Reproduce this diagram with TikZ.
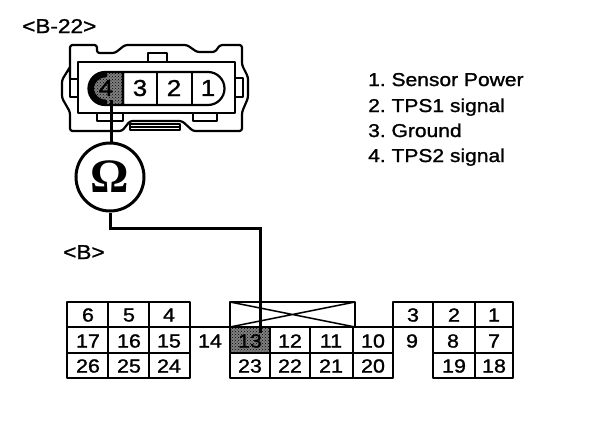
\documentclass[tikz,border=0pt]{standalone}
\usepackage{fontspec}
\setmainfont{Liberation Sans}[FakeBold=1.3,FakeStretch=1.13]
\newfontfamily\omfont{Liberation Serif}[BoldFont={Liberation Serif Bold}]
\usetikzlibrary{patterns}
\definecolor{hatchgrey}{gray}{0.5}
\tikzset{
  ink/.style={draw=black,line width=2.2pt,line join=round},
  thin ink/.style={draw=black,line width=1.5pt,line join=round},
  wire/.style={draw=black,line width=3pt},
  num/.style={font=\fontsize{19}{19}\selectfont,inner sep=0pt,anchor=center},
  bignum/.style={font=\fontsize{23}{23}\selectfont,inner sep=0pt,anchor=center},
  lbl/.style={font=\fontsize{18.6}{18.6}\selectfont,inner sep=0pt,anchor=base west},
  tag/.style={font=\fontsize{20}{20}\selectfont,inner sep=0pt,anchor=base west},
  shade cell/.style={fill=hatchgrey,postaction={pattern=crosshatch dots,pattern color=black}}
}
\begin{document}
\frenchspacing
\begin{tikzpicture}[x=1pt,y=-1pt]
\useasboundingbox (0,0) rectangle (608,426);
% connector outline
\draw[ink,rounded corners=2.5pt] (70,79) -- (70,67) -- (70,45) -- (97,45) -- (97,53) -- (115,53) -- (125,45) -- (187,45) -- (197,52) -- (215,52) -- (220,45) -- (242,45) -- (242,65) -- (248,77) -- (248,98) -- (242,112) -- (242,131) -- (193,131) -- (182,121) -- (130,121) -- (122,131) -- (70,131) -- (70,112) -- (62,98) -- (62,80) -- (70,67);
\draw[ink] (78,79) -- (70,79) -- (70,97) -- (78,97);
\draw[ink] (235,78) -- (243,78) -- (243,97) -- (235,97);
\draw[ink] (78,62) rectangle (235,113);
\draw[ink] (148,62) -- (148,53) -- (167,53) -- (167,62);
\draw[ink] (97,113) -- (97,121) -- (123,121) -- (123,113);
\draw[ink] (193,113) -- (193,121) -- (217,121) -- (217,113);
\draw[thin ink] (130,124) rectangle (180,130);
\draw[thin ink] (130,127) -- (180,127);
% capsule
\draw[ink,shade cell] (123,72) -- (105,72) arc[start angle=270,end angle=90,radius=16.5] -- (123,105) -- cycle;
\draw[line width=5pt,line cap=round] (105,75) arc[start angle=270,end angle=90,radius=13.5];
\draw[ink] (123,72) -- (208,72) arc[start angle=-90,end angle=90,radius=16.5] -- (123,105) -- cycle;
\draw[ink] (157,72) -- (157,105) (192,72) -- (192,105);
\node[bignum] (c4) at (106,88) {4};
\node[bignum] (c3) at (140,88) {3};
\node[bignum] (c2) at (174,88) {2};
\node[bignum] (c1) at (208,88) {1};
\coordinate (pin) at (111,100);
% meter
\node[draw=black,line width=3pt,circle,minimum size=68pt,inner sep=0pt,font=\omfont\bfseries\fontsize{48}{48}\selectfont] (meter) at (110,177) {Ω};
\coordinate (bend1) at (110,228);
\coordinate (bend2) at (260,228);
\coordinate (wireend) at (260,333);
% terminal block
\foreach \x/\y/\w/\h in {67/302/41/25,108/302/41/25,149/302/41/25,
 67/327/41/26,108/327/41/26,149/327/41/26,
 67/353/41/25,108/353/41/25,149/353/41/25,
 230/353/40/25,270/353/40/25,310/353/43/25,353/353/40/25,
 270/327/40/26,310/327/43/26,353/327/40/26,
 393/302/40/25,433/302/42/25,475/302/38/25,
 433/327/42/26,475/327/38/26,
 433/353/42/25,475/353/38/25}
  \draw[ink] (\x,\y) rectangle ++(\w,\h);
\draw[ink] (190,327) -- (230,327) (190,327) -- (190,353) (393,327) -- (433,327) (393,327) -- (393,353);
\draw[ink,shade cell] (230,327) rectangle (270,353);
\draw[ink] (230,302) rectangle (355,327);
\draw[thin ink] (230,302) -- (355,327) (230,327) -- (355,302);
\foreach \nm/\x/\y in {6/88/315,5/129/315,4/169/315,3/413/315,2/454/315,1/494/315,
  17/88/341,16/129/341,15/169/341,14/210/341,13/250/341,12/290/341,11/331/341,10/373/341,9/412/341,8/453/341,7/494/341,
  26/88/366,25/129/366,24/169/366,23/250/366,22/290/366,21/331/366,20/373/366,19/454/366,18/494/366}
  \node[num] (t\nm) at (\x,\y) {\nm};
% wire
\draw[wire] (pin) -- (pin |- meter.north);
\draw[wire] (meter.south) -- (bend1) -- (bend2) -- (wireend);
% labels
\node[tag] (hdr1) at (22,33) {<B-22>};
\node[tag] (hdr2) at (63,259) {<B>};
\node[lbl] (l1) at (368,86) {1. Sensor Power};
\node[lbl] (l2) at (368,112) {2. TPS1 signal};
\node[lbl] (l3) at (368,137) {3. Ground};
\node[lbl] (l4) at (368,162) {4. TPS2 signal};
\end{tikzpicture}
\end{document}
